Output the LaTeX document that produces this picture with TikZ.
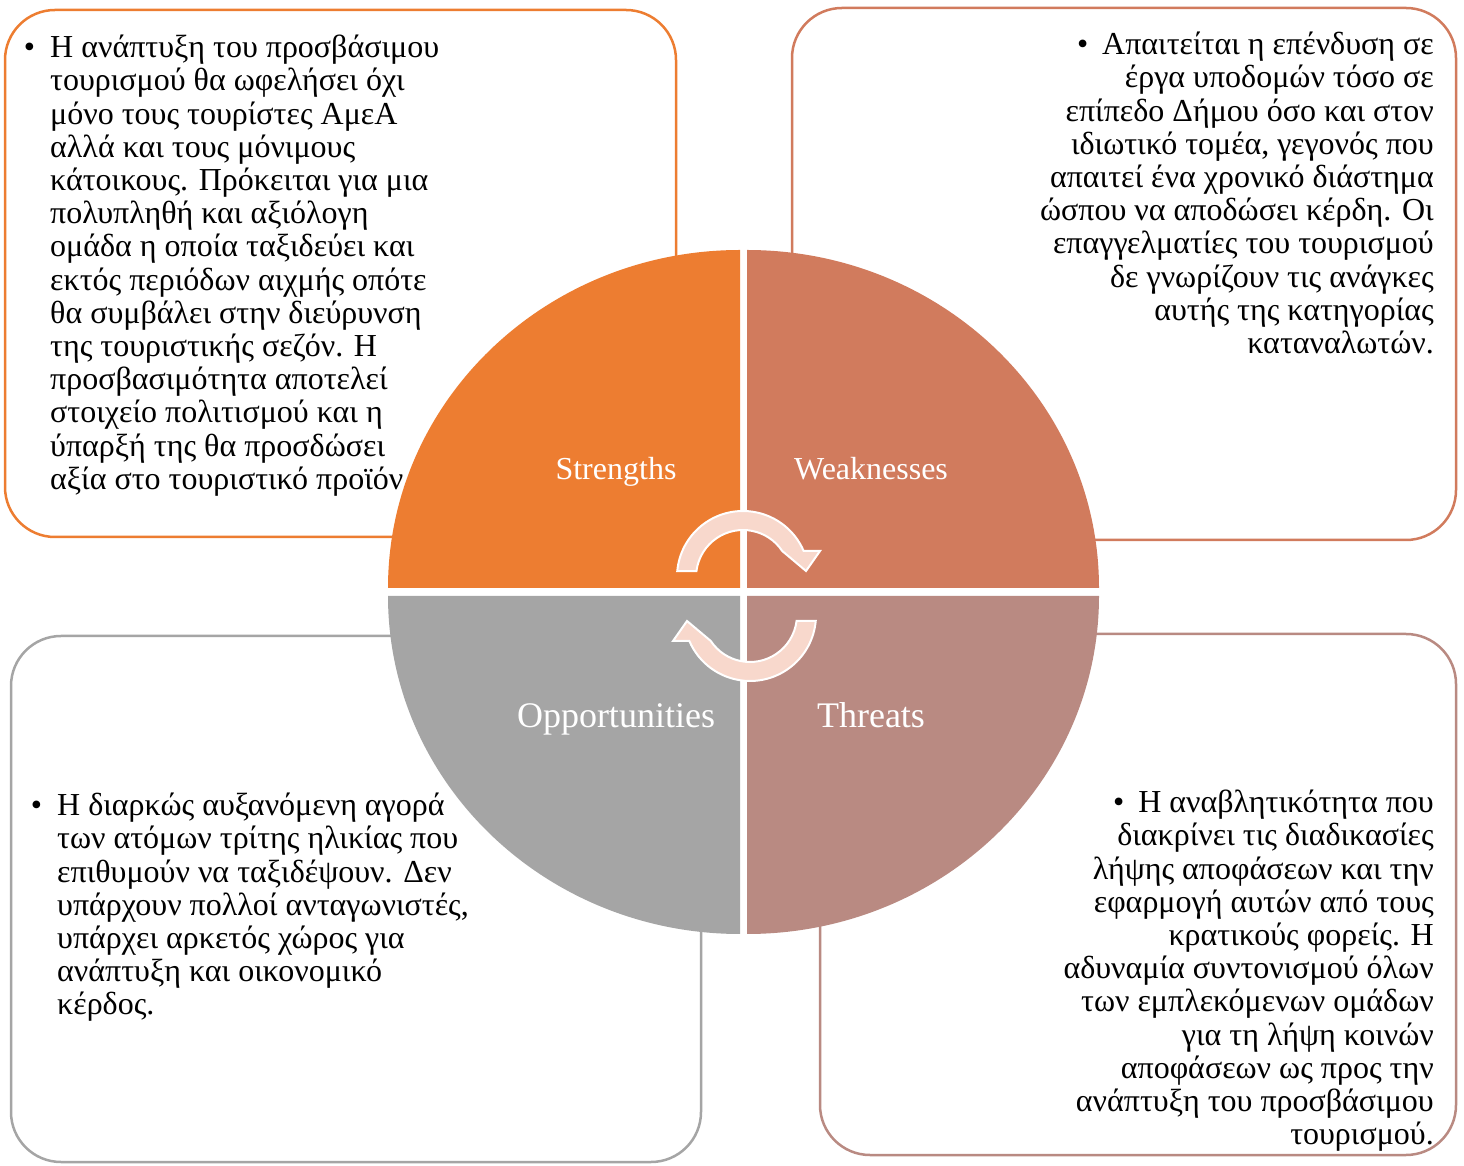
\documentclass[tikz,border=0pt]{standalone}
\usepackage{fontspec}
\setmainfont{Liberation Serif}
\usepackage{xcolor}
\usepackage{tikz}
\definecolor{strengthsOrange}{HTML}{ED7D31}
\definecolor{weaknessesRed}{HTML}{D17B5D}
\definecolor{opportunitiesGray}{HTML}{A5A5A5}
\definecolor{threatsRose}{HTML}{B98A82}
\definecolor{cyclePeach}{HTML}{F8D8CC}
\tikzset{%
  % Specifications for style of nodes:
      swotBox/.style = {rectangle, rounded corners=50pt, line width=2.5pt,
                        fill=white, inner sep=0pt},
     bodyText/.style = {inner sep=0pt, text=black,
                        font=\fontsize{32}{33.2}\selectfont},
     leftText/.style = {bodyText, align=left, anchor=north west},
    rightText/.style = {bodyText, align=right, anchor=north east},
     topLabel/.style = {text=white, anchor=base,
                        font=\fontsize{32}{36}\selectfont},
     lowLabel/.style = {text=white, anchor=base,
                        font=\fontsize{36}{40}\selectfont},
   cycleArrow/.style = {fill=cyclePeach, draw=white, line width=2pt},
}

\begin{document}
\begin{tikzpicture}[x=1pt, y=1pt]
  \useasboundingbox (0,0) rectangle (1464,1165);
  % Outer boxes
  \node (strengthsBox)     [swotBox, draw=strengthsOrange,
                            minimum width=671, minimum height=527] at (340.5,891.5) {};
  \node (weaknessesBox)    [swotBox, draw=weaknessesRed,
                            minimum width=664, minimum height=532] at (1124,891) {};
  \node (opportunitiesBox) [swotBox, draw=opportunitiesGray,
                            minimum width=690, minimum height=526] at (356,266) {};
  \node (threatsBox)       [swotBox, draw=threatsRose,
                            minimum width=636, minimum height=521] at (1138,270.5) {};

  % The four quarters of the circle
  \fill[strengthsOrange]   (740,577) -- (388,577)
        arc[start angle=180, end angle=90, x radius=352, y radius=338] -- cycle;
  \fill[weaknessesRed]     (747,577) -- (1099,577)
        arc[start angle=0, end angle=90, x radius=352, y radius=338] -- cycle;
  \fill[opportunitiesGray] (740,569) -- (388,569)
        arc[start angle=180, end angle=270, x radius=352, y radius=338] -- cycle;
  \fill[threatsRose]       (747,569) -- (1099,569)
        arc[start angle=0, end angle=-90, x radius=352, y radius=338] -- cycle;

  % Cycle arrows in the middle
  \begin{scope}[shift={(743,588)}]
    \draw[cycleArrow] (174.8:66) arc[start angle=174.8, end angle=23.2, radius=66]
      -- (77,26) -- (63,6) -- (39.2,26)
      arc[start angle=33.6, end angle=172.7, radius=47] -- cycle;
  \end{scope}
  \begin{scope}[shift={(750,550)}, rotate=180]
    \draw[cycleArrow] (174.8:66) arc[start angle=174.8, end angle=23.2, radius=66]
      -- (77,26) -- (63,6) -- (39.2,26)
      arc[start angle=33.6, end angle=172.7, radius=47] -- cycle;
  \end{scope}

  % Labels of the quarters
  \node (strengthsLabel)     [topLabel] at (616,685.5) {Strengths};
  \node (weaknessesLabel)    [topLabel] at (871,685.5) {Weaknesses};
  \node (opportunitiesLabel) [lowLabel] at (616,437) {Opportunities};
  \node (threatsLabel)       [lowLabel] at (871,437) {Threats};

  % Texts of the boxes
  \node (strengthsText) [leftText] at (50,1130)
    {\llap{\textbullet\hspace{15pt}}Η ανάπτυξη του προσβάσιμου\\
     τουρισμού θα ωφελήσει όχι\\
     μόνο τους τουρίστες ΑμεΑ\\
     αλλά και τους μόνιμους\\
     κάτοικους. Πρόκειται για μια\\
     πολυπληθή και αξιόλογη\\
     ομάδα η οποία ταξιδεύει και\\
     εκτός περιόδων αιχμής οπότε\\
     θα συμβάλει στην διεύρυνση\\
     της τουριστικής σεζόν. Η\\
     προσβασιμότητα αποτελεί\\
     στοιχείο πολιτισμού και η\\
     ύπαρξή της θα προσδώσει\\
     αξία στο τουριστικό προϊόν};
  \node (weaknessesText) [rightText] at (1434,1133)
    {\textbullet\hspace{14pt}Απαιτείται η επένδυση σε\\
     έργα υποδομών τόσο σε\\
     επίπεδο Δήμου όσο και στον\\
     ιδιωτικό τομέα, γεγονός που\\
     απαιτεί ένα χρονικό διάστημα\\
     ώσπου να αποδώσει κέρδη. Οι\\
     επαγγελματίες του τουρισμού\\
     δε γνωρίζουν τις ανάγκες\\
     αυτής της κατηγορίας\\
     καταναλωτών.};
  \node (opportunitiesText) [leftText] at (57,372)
    {\llap{\textbullet\hspace{15pt}}Η διαρκώς αυξανόμενη αγορά\\
     των ατόμων τρίτης ηλικίας που\\
     επιθυμούν να ταξιδέψουν. Δεν\\
     υπάρχουν πολλοί ανταγωνιστές,\\
     υπάρχει αρκετός χώρος για\\
     ανάπτυξη και οικονομικό\\
     κέρδος.};
  \node (threatsText) [rightText] at (1434,375)
    {\textbullet\hspace{14pt}Η αναβλητικότητα που\\
     διακρίνει τις διαδικασίες\\
     λήψης αποφάσεων και την\\
     εφαρμογή αυτών από τους\\
     κρατικούς φορείς. Η\\
     αδυναμία συντονισμού όλων\\
     των εμπλεκόμενων ομάδων\\
     για τη λήψη κοινών\\
     αποφάσεων ως προς την\\
     ανάπτυξη του προσβάσιμου\\
     τουρισμού.};
\end{tikzpicture}
\end{document}
